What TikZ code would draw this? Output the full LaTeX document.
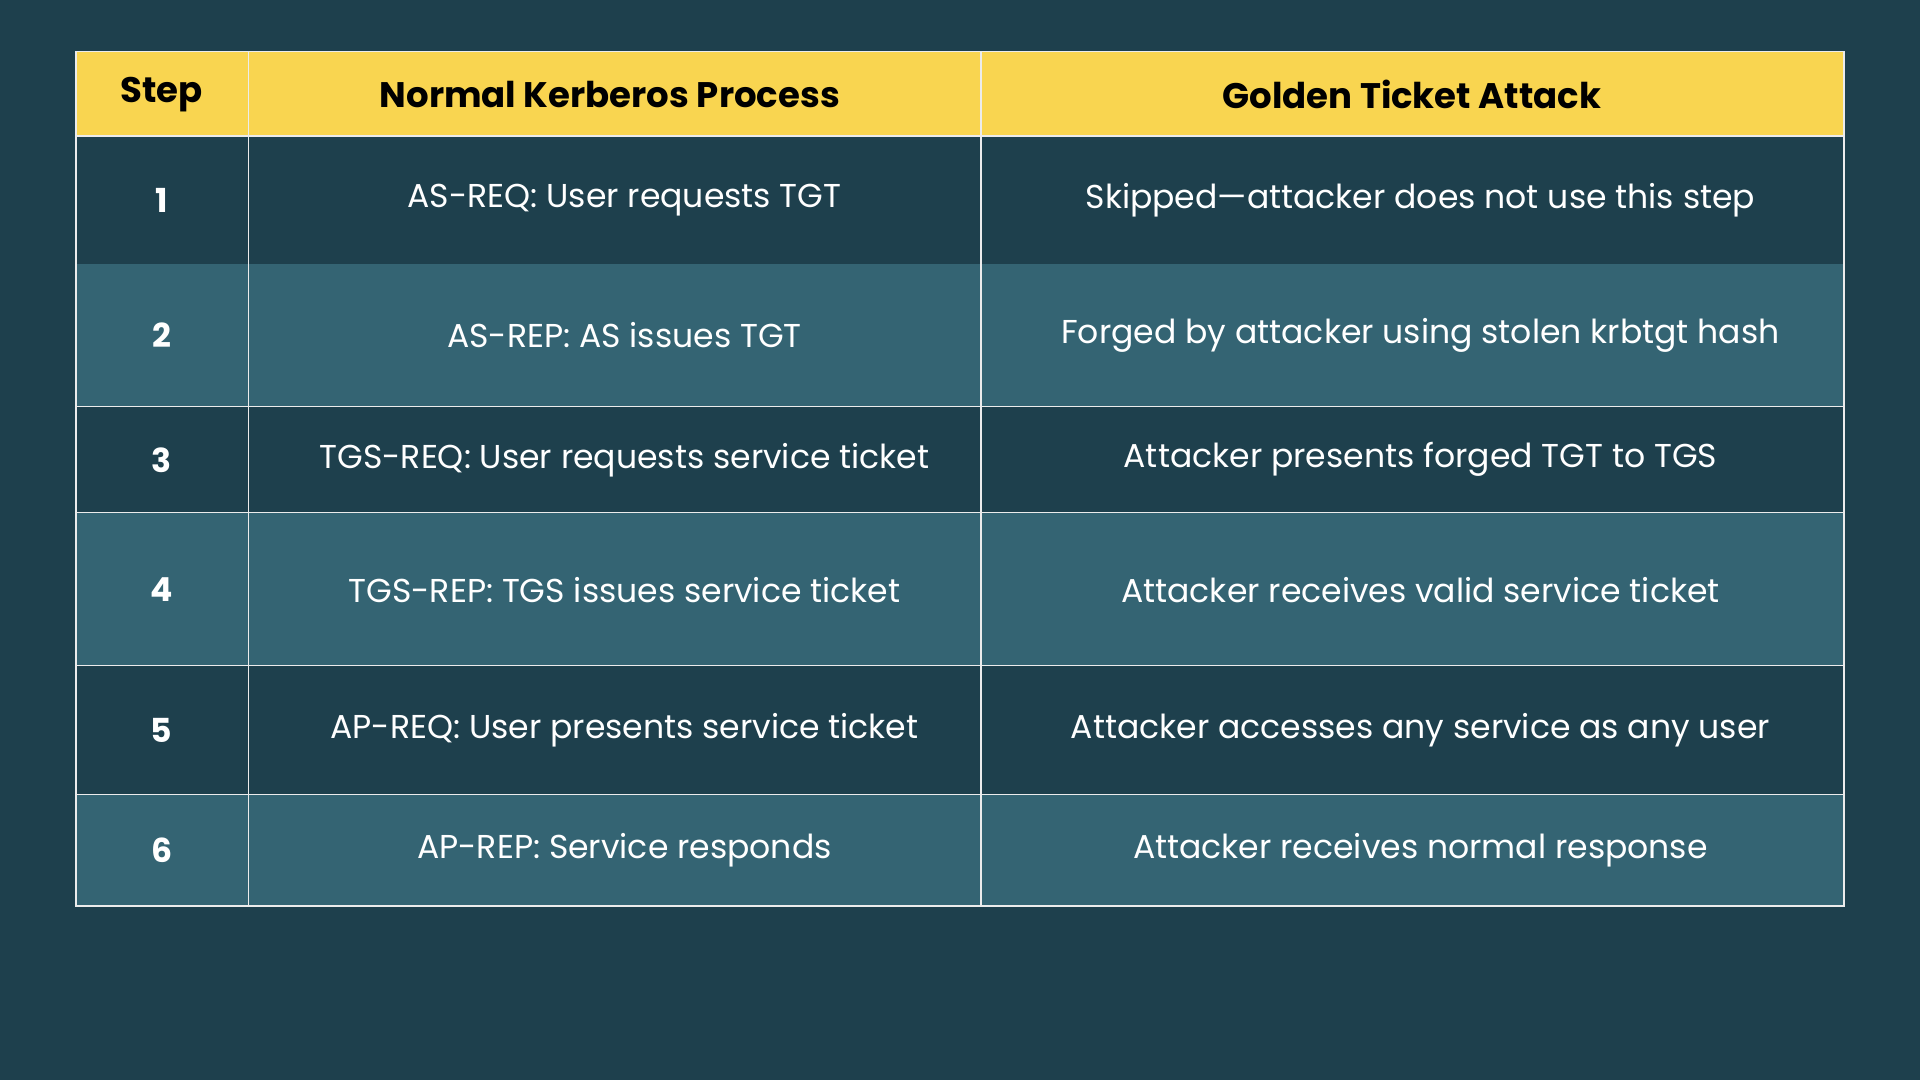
\documentclass[tikz,border=0pt]{standalone}
\usepackage{fontspec}
\setmainfont{Poppins}
\usetikzlibrary{positioning}
\definecolor{bgteal}{HTML}{1E404D}
\definecolor{rowlight}{HTML}{346473}
\definecolor{headyellow}{HTML}{F9D550}
\begin{document}
\begin{tikzpicture}[x=1pt,y=-1pt,
    cell/.style={font=\fontsize{27}{30}\selectfont,text=white},
    head/.style={font=\fontsize{29}{32}\selectfont\bfseries,text=black},
    grid/.style={draw=white!85!gray,line width=1.2pt}]
  \fill[bgteal] (0,0) rectangle (1568,882);
  \useasboundingbox (0,0) rectangle (1568,882);
  % header
  \fill[headyellow] (62,42) rectangle (1506,111);
  \node[head] (hstep) at (132,77) {Step};
  \node[head] (hnorm) at (498,77) {Normal Kerberos Process};
  \node[head] (hgold) at (1153,77) {Golden Ticket Attack};
  % rows
  \foreach \n/\top/\bot/\shade/\normal/\golden in {
      1/111/216/bgteal/{AS-REQ: User requests TGT}/{Skipped—attacker does not use this step},
      2/216/332/rowlight/{AS-REP: AS issues TGT}/{Forged by attacker using stolen krbtgt hash},
      3/332/419/bgteal/{TGS-REQ: User requests service ticket}/{Attacker presents forged TGT to TGS},
      4/419/544/rowlight/{TGS-REP: TGS issues service ticket}/{Attacker receives valid service ticket},
      5/544/649/bgteal/{AP-REQ: User presents service ticket}/{Attacker accesses any service as any user},
      6/649/740/rowlight/{AP-REP: Service responds}/{Attacker receives normal response}}{
    \fill[\shade] (62,\top) rectangle (1506,\bot);
    \node[cell,font=\fontsize{27}{30}\selectfont\bfseries] (step\n) at (132,{(\top+\bot)/2}) {\n};
    \node[cell] (norm\n) at (510,{(\top+\bot)/2}) {\normal};
    \node[cell] (gold\n) at (1160,{(\top+\bot)/2}) {\golden};
    \draw[grid] (62,\bot) -- (1506,\bot);
  }
  % grid
  \draw[grid] (62,42) rectangle (1506,740);
  \draw[grid] (62,111) -- (1506,111);
  \draw[grid] (203,42) -- (203,740);
  \draw[grid] (801,42) -- (801,740);
\end{tikzpicture}
\end{document}
